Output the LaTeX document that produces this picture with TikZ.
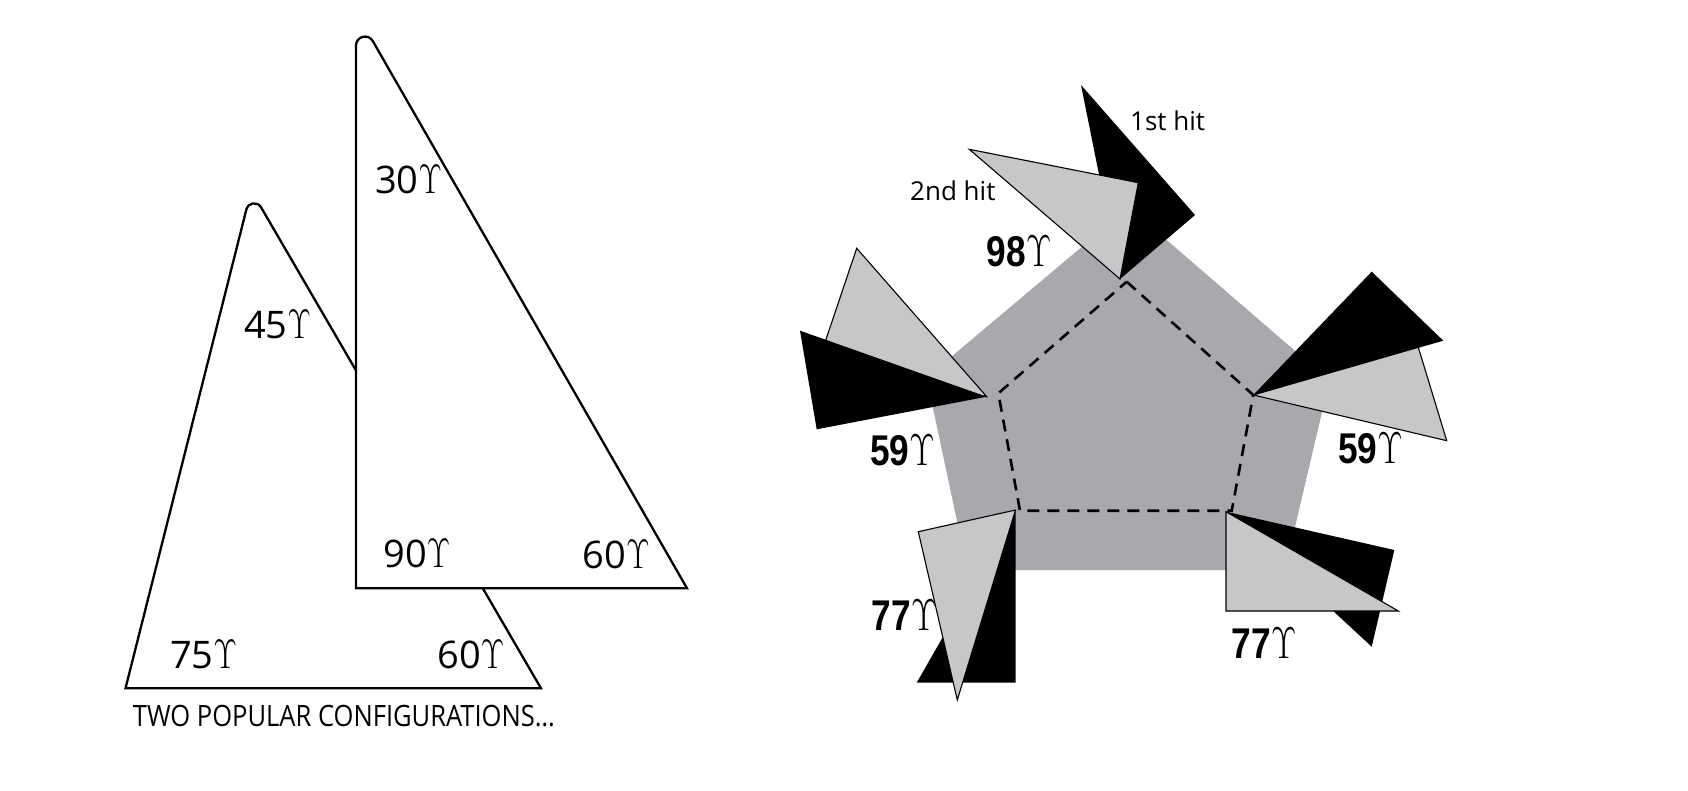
\documentclass[tikz,border=0pt]{standalone}
\usepackage{fix-cm}
\usepackage{fontspec}
\setmainfont{Open Sans}
\newfontfamily\condfont{Liberation Sans}
\usepackage{graphicx}
\definecolor{lightg}{RGB}{198,199,201}
\definecolor{midg}{RGB}{167,169,172}
\newcommand{\upsl}[1]{\scalebox{0.88}[1.12]{\fontsize{#1}{#1}\selectfont$\Upsilon$}}
\newcommand{\blabtext}[1]{\scalebox{0.82}[1]{\condfont\bfseries\fontsize{43}{43}\selectfont #1}\upsl{40}}
\tikzset{
  outline/.style={draw=black, line width=2.3pt, fill=white},
  lab/.style={inner sep=0pt, anchor=base west, font=\fontsize{38}{38}\selectfont},
  blab/.style={inner sep=0pt, anchor=base west},
  small/.style={inner sep=0pt, anchor=base west, font=\fontsize{26}{26}\selectfont},
  blk/.style={fill=black},
  lgt/.style={fill=lightg, draw=black, line width=1.1pt, line join=miter},
  dashpent/.style={draw=black, line width=2.6pt, dash pattern=on 12pt off 8pt},
}
\begin{document}
\begin{tikzpicture}[x=1pt,y=-1pt]
\useasboundingbox (0,0) rectangle (1688,790);
\fill[white] (0,0) rectangle (1688,790);
% ---------- left panel ----------
\draw[outline] (246.4,209.4) .. controls (248.2,202.45) and (257.44,201.1) .. (261.05,207.3)
   -- (541,688.3) -- (125.5,688.3) -- cycle;
\draw[outline] (356,588.3) -- (356,45.6) .. controls (356,36.4) and (368.2,33.1) .. (372.8,41.1)
   -- (687,588.3) -- cycle;
\node[lab] (a30) at (375,193.3) {30\upsl{37}};
\node[lab] (a45) at (244,338.3) {45\upsl{37}};
\node[lab] (a90) at (383.3,567.3) {90\upsl{37}};
\node[lab] (a60f) at (582.7,568.3) {60\upsl{37}};
\node[lab] (a75) at (170,668.3) {75\upsl{37}};
\node[lab] (a60b) at (437.3,668) {60\upsl{37}};
\node[inner sep=0pt, anchor=base west] (cap) at (132.7,726.7)
  {\resizebox{422pt}{\height}{\fontsize{29.4}{30}\selectfont TWO POPULAR CONFIGURATIONS…}};
% ---------- right panel ----------
\fill[midg] (1128.8,207.3) -- (1329.4,380.6) -- (1284.9,570) -- (967.4,570) -- (926.5,377.6) -- cycle;
\draw[dashpent] (1126.7,281.7) -- (1253.3,395) -- (1231.7,510.7) -- (1020,510.7) -- (998.3,393.3) -- cycle;
\node[blab] (b98) at (986.7,266.7) {\blabtext{98}};
\node[blab] (b59l) at (870,465) {\blabtext{59}};
\node[blab] (b59r) at (1338,463) {\blabtext{59}};
\node[blab] (b77l) at (871.7,630) {\blabtext{77}};
\node[blab] (b77r) at (1231.7,658) {\blabtext{77}};
\node[small] (h1) at (1130,130) {1st hit};
\node[small] (h2) at (910,200) {2nd hit};
% top group
\fill[blk] (1081,85) -- (1195,215) -- (1120,279) -- cycle;
\draw[lgt] (969.3,149.3) -- (1138.3,182.7) -- (1120,279) -- cycle;
% left group
\draw[lgt] (856.7,248.3) -- (986.7,396.7) -- (818,363) -- cycle;
\fill[blk] (800,330.7) -- (986.7,396.7) -- (816.7,429.3) -- cycle;
% right group
\fill[blk] (1371.7,271.7) -- (1443.3,340.7) -- (1253.3,395) -- cycle;
\draw[lgt] (1253.3,395) -- (1418.3,347.3) -- (1446.7,440.7) -- cycle;
% lower-left group
\fill[blk] (1015.5,510) -- (1015.5,682.7) -- (916.7,682.7) -- cycle;
\draw[lgt] (918.3,531.7) -- (1015.5,510) -- (957.3,700) -- cycle;
% lower-right group
\fill[blk] (1226,511.7) -- (1394.3,550) -- (1371.7,646.7) -- cycle;
\draw[lgt] (1226,511.7) -- (1226,611) -- (1398.3,611) -- cycle;
\end{tikzpicture}
\end{document}
